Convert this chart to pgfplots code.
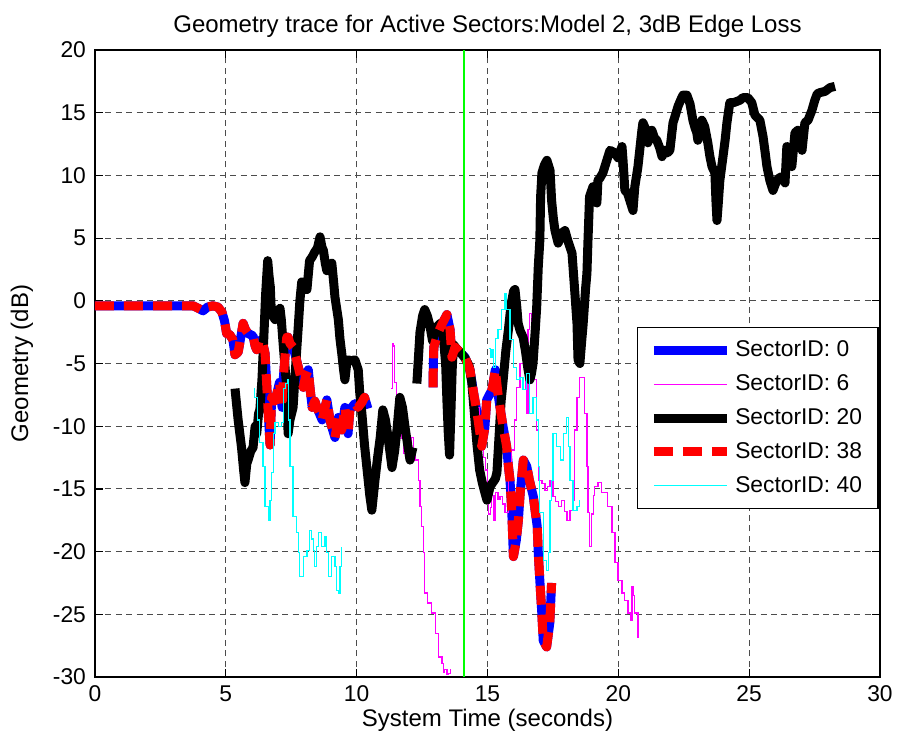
\documentclass[border=0pt]{standalone}
\usepackage{pgfplots}
\pgfplotsset{compat=1.18}
\usepackage{pgfplotstable}
\usepackage{fontspec}
\setmainfont{Liberation Sans}
\newcommand\fs{\fontsize{11.4}{13.7}\selectfont}
\newcommand\fl{\fontsize{12}{14.4}\selectfont}
\definecolor{traceblue}{rgb}{0,0,1}
\definecolor{tracered}{rgb}{1,0,0}
\definecolor{tracemagenta}{rgb}{1,0,1}
\definecolor{tracecyan}{rgb}{0,1,1}
\definecolor{markergreen}{rgb}{0,1,0}

% Sectors 0 and 38 carry the same geometry trace
\pgfplotstableread{
t g
0 -0.4
3.75 -0.4
3.95 -0.6
4.13 -0.8
4.3 -0.5
4.5 -0.4
4.7 -0.5
4.85 -0.9
4.95 -1.6
5.03 -2.6
5.15 -2.7
5.27 -3.1
5.35 -4.3
5.47 -4.1
5.58 -2.8
5.66 -1.8
5.75 -2.3
5.85 -2.6
6.04 -2.8
6.12 -3.6
6.18 -3.9
6.28 -3.2
6.38 -3.1
6.5 -4.2
6.56 -6.6
6.63 -9.3
6.69 -11.5
6.75 -7.7
6.85 -8.0
6.95 -7.4
7.05 -6.5
7.15 -8.5
7.2 -6.1
7.27 -4.2
7.33 -2.9
7.38 -2.9
7.45 -3.4
7.57 -3.7
7.7 -4.7
7.83 -5.8
7.96 -6.9
8.05 -6.0
8.15 -5.5
8.22 -7.0
8.3 -8.5
8.4 -8.0
8.48 -8.5
8.58 -9.0
8.68 -9.5
8.78 -8.6
8.86 -7.9
8.98 -9.5
9.07 -10.2
9.17 -10.9
9.3 -9.3
9.43 -10.3
9.55 -8.5
9.67 -10.6
9.74 -8.7
9.85 -8.4
9.93 -8.2
10.05 -8.5
10.2 -8.1
10.3 -7.7
10.43 -8.6
nan nan
12.92 -6.9
12.93 -5.0
12.95 -3.7
13.1 -2.6
13.25 -1.9
13.45 -1.1
13.57 -2.3
13.64 -4.5
13.76 -3.7
13.95 -4.1
14.14 -4.5
14.33 -5.5
14.45 -7.1
14.55 -8.3
14.64 -9.5
14.78 -11.6
14.9 -10.1
14.97 -7.9
15.17 -7.1
15.3 -5.5
15.4 -7.4
15.5 -8.8
15.6 -10.1
15.73 -11.6
15.8 -13.2
15.86 -14.3
15.93 -16.9
15.99 -20.4
16.1 -19.1
16.18 -17.5
16.25 -15.3
16.37 -12.7
16.5 -13.2
16.6 -14.3
16.75 -15.6
16.9 -18.0
16.94 -20.1
17.0 -22.3
17.07 -24.7
17.13 -27.1
17.26 -27.6
17.38 -25.7
17.45 -22.5
}\sectorzero

\pgfplotstableread{
t g
11.33 -7.0
11.36 -3.4
11.42 -3.6
11.45 -6.5
11.52 -8.0
11.6 -9.0
11.65 -9.5
11.72 -11.0
11.78 -12.2
11.9 -11.8
12.0 -11.3
12.1 -10.9
12.18 -12.0
12.23 -12.7
12.35 -14.3
12.42 -16.4
12.48 -18.0
12.55 -20.1
12.6 -23.3
12.72 -24.1
12.87 -24.9
13.0 -26.5
13.12 -28.4
13.26 -28.9
13.32 -29.6
13.37 -29.4
13.45 -29.8
13.5 -29.7
13.6 -29.4
nan nan
14.55 -7.0
14.62 -8.5
14.7 -9.5
14.78 -10.8
14.85 -12.5
14.92 -13.5
15.0 -14.5
15.05 -17.0
15.1 -16.5
15.15 -15.0
15.2 -15.5
15.25 -17.5
15.3 -15.3
15.4 -15.8
15.48 -15.6
15.58 -16.2
15.67 -16.9
15.8 -13.2
15.93 -11.9
16.02 -9.5
16.1 -6.9
16.24 -5.0
16.37 -4.7
16.45 -7.0
16.5 -9.0
16.55 -2.3
16.62 -1.0
16.68 -2.1
16.81 -6.3
16.88 -10.3
16.94 -14.3
17.08 -14.6
17.2 -15.1
17.3 -14.8
17.39 -14.3
17.5 -15.6
17.6 -16.0
17.7 -16.4
17.84 -15.9
17.95 -16.8
18.04 -17.5
18.15 -16.7
18.27 -15.9
18.34 -10.3
18.42 -7.7
18.53 -6.1
18.65 -6.1
18.72 -9.0
18.8 -13.2
18.84 -16.9
18.91 -19.6
18.98 -17.0
19.05 -15.5
19.1 -14.8
19.22 -14.5
19.37 -15.3
19.49 -15.3
19.6 -16.4
19.76 -18.5
19.87 -20.9
19.99 -22.3
20.14 -23.3
20.25 -23.9
20.37 -24.9
20.45 -25.5
20.52 -22.8
20.58 -23.5
20.63 -24.9
20.75 -26.9
}\sectorsix

\pgfplotstableread{
t g
5.35 -7.0
5.47 -9.5
5.6 -11.7
5.68 -13.5
5.73 -14.5
5.8 -13.0
5.85 -12.7
5.95 -12.0
6.04 -11.7
6.12 -10.0
6.18 -10.6
6.25 -9.0
6.3 -8.7
6.38 -6.3
6.45 -3.0
6.52 0.5
6.6 3.2
6.65 2.0
6.7 1.1
6.74 -1.0
6.8 -1.2
6.88 -1.5
6.98 -0.9
7.07 -0.6
7.12 -1.5
7.2 -3.7
7.27 -5.5
7.33 -6.9
7.38 -10.6
7.45 -9.5
7.57 -8.5
7.63 -6.5
7.7 -4.2
7.77 -2.0
7.83 0.0
7.9 1.5
8.0 1.2
8.1 0.9
8.2 3.2
8.3 3.5
8.4 3.9
8.5 4.2
8.6 5.1
8.67 4.3
8.73 4.0
8.8 3.0
8.86 2.4
8.95 2.8
9.05 3.0
9.12 1.5
9.17 0.3
9.3 -1.5
9.36 -3.0
9.43 -4.2
9.5 -5.5
9.55 -6.3
9.62 -5.0
9.67 -4.7
9.8 -4.8
9.93 -4.7
10.06 -5.5
10.12 -7.4
10.2 -9.0
10.3 -11.5
10.4 -13.5
10.5 -15.5
10.58 -16.7
10.7 -14.3
10.8 -12.5
10.9 -10.9
11.0 -8.7
11.1 -9.5
11.2 -10.9
11.35 -13.3
11.45 -12.0
11.54 -10.3
11.65 -7.7
11.75 -8.5
11.85 -10.1
11.95 -11.5
12.04 -12.7
12.15 -11.7
nan nan
12.3 -6.6
12.42 -2.5
12.52 -1.2
12.6 -0.7
12.7 -1.2
12.8 -2.0
12.9 -3.2
13.0 -2.4
13.1 -2.0
13.2 -1.8
13.3 -2.6
13.4 -5.0
13.45 -8.0
13.5 -10.5
13.55 -12.3
13.6 -9.0
13.65 -5.5
13.7 -3.5
13.85 -3.9
14.0 -4.2
14.15 -4.6
14.3 -5.2
14.4 -6.5
14.5 -9.0
14.6 -11.5
14.7 -13.5
14.8 -14.5
14.9 -15.3
14.98 -15.9
15.1 -14.8
15.2 -14.5
15.3 -14.2
15.36 -13.7
15.45 -10.5
15.52 -8.0
15.6 -6.3
15.7 -4.0
15.8 -2.3
15.9 -0.3
16.0 0.8
16.05 0.9
16.12 -0.5
16.17 -1.8
16.25 -2.4
16.36 -2.9
16.45 -4.0
16.55 -5.5
16.62 -6.3
16.68 -5.8
16.74 -5.0
16.82 -2.5
16.88 -0.5
16.94 2.7
17.0 4.8
17.03 8.3
17.08 10.2
17.17 10.8
17.27 11.2
17.39 10.4
17.45 8.0
17.52 6.5
17.58 5.6
17.7 4.6
17.84 5.4
17.96 5.6
18.07 4.8
18.23 3.8
18.34 0.6
18.42 -1.8
18.46 -4.7
18.53 -5.0
18.6 -3.2
18.65 -2.0
18.75 1.0
18.8 2.2
18.84 4.8
18.9 8.3
19.03 9.1
19.1 8.5
19.18 7.8
19.22 9.6
19.3 9.8
19.41 10.2
19.56 11.2
19.68 12.0
19.87 11.8
19.99 11.4
20.14 12.3
20.18 11.2
20.25 8.8
20.35 8.6
20.44 8.0
20.56 7.2
20.63 9.1
20.75 10.7
20.9 13.6
20.94 14.2
21.02 13.8
21.09 13.6
21.13 12.6
21.2 13.2
21.28 13.6
21.38 13.0
21.47 12.8
21.58 12.2
21.67 11.5
21.78 12.0
21.88 11.8
21.97 12.0
22.09 14.2
22.18 14.8
22.28 15.5
22.38 16.0
22.47 16.4
22.62 16.4
22.74 15.7
22.85 14.4
22.93 13.8
23.0 13.4
23.04 12.8
23.12 13.5
23.19 14.4
23.3 13.9
23.42 12.6
23.5 11.5
23.58 10.7
23.69 10.2
23.73 8.0
23.77 6.4
23.81 7.5
23.88 9.6
24.0 11.5
24.08 12.8
24.15 14.2
24.26 15.8
24.4 15.8
24.53 15.9
24.65 16.0
24.76 16.2
24.95 16.2
25.1 15.8
25.22 14.8
25.32 14.6
25.41 14.4
25.53 13.1
25.6 12.0
25.68 10.7
25.79 9.6
25.91 8.8
26.0 9.3
26.06 9.6
26.15 9.8
26.25 9.9
26.37 9.4
26.44 12.3
26.56 12.0
26.63 10.7
26.75 13.4
26.86 13.6
26.95 12.8
27.02 12.0
27.13 14.2
27.25 14.4
27.4 15.2
27.51 16.0
27.6 16.5
27.7 16.6
27.9 16.7
28.09 17.0
28.28 17.1
}\sectortwenty

\pgfplotstableread{
t g
6.08 -7.0
6.11 -7.7
6.2 -9.5
6.3 -11.3
6.42 -13.2
6.5 -16.4
6.62 -17.5
6.69 -15.9
6.75 -13.7
6.82 -10.6
6.88 -9.7
7.0 -10.0
7.13 -9.7
7.2 -7.0
7.27 -6.6
7.35 -6.3
7.4 -9.5
7.45 -13.2
7.57 -17.2
7.7 -18.5
7.77 -20.1
7.83 -22.0
7.96 -20.4
8.1 -19.9
8.2 -18.3
8.28 -19.0
8.34 -19.9
8.4 -21.2
8.48 -19.6
8.53 -18.5
8.67 -19.6
8.79 -18.8
8.86 -20.1
8.92 -22.0
9.05 -20.4
9.17 -21.2
9.24 -23.1
9.3 -23.3
9.36 -21.2
9.43 -19.6
nan nan
15.05 -3.8
15.1 -4.5
15.17 -3.9
15.22 -5.3
15.3 -3.0
15.4 -2.3
15.55 -0.7
15.67 0.6
15.73 -0.7
15.86 -3.1
15.99 -5.3
16.1 -6.3
16.24 -6.1
16.36 -7.1
16.5 -5.8
16.62 -9.0
16.74 -7.7
16.88 -9.5
16.94 -13.2
17.0 -16.9
17.13 -20.7
17.27 -21.5
17.32 -20.1
17.39 -15.9
17.45 -14.3
17.5 -10.6
17.65 -11.6
17.78 -12.7
17.9 -10.6
18.03 -9.3
18.1 -11.6
18.15 -14.3
18.27 -16.7
18.42 -16.4
18.53 -15.9
}\sectorforty

\begin{document}
\begin{tikzpicture}
\begin{axis}[
  at={(0,0)}, anchor=south west,
  scale only axis, width=392.5pt, height=313.5pt,
  xmin=0, xmax=30, ymin=-30, ymax=20,
  xtick={0,5,...,30}, ytick={-30,-25,...,20},
  tick align=inside, major tick length=4pt,
  grid=major,
  major grid style={black!70, line width=0.55pt, dash pattern=on 3pt off 2.2pt},
  axis line style={black, line width=0.6pt},
  tick style={black, line width=0.6pt},
  /pgf/number format/assume math mode=true,
  tick label style={font=\fs},
  xticklabel style={yshift=-1pt},
  yticklabel style={xshift=-1pt},
  title={Geometry trace for Active Sectors:Model 2, 3dB Edge Loss},
  title style={at={(axis description cs:0.5,1.019)}, anchor=center, font=\fl},
  xlabel={System Time (seconds)},
  xlabel style={at={(axis description cs:0.5,-0.0686)}, anchor=center, font=\fl},
  ylabel={Geometry (dB)},
  ylabel style={at={(axis description cs:-0.093,0.5)}, anchor=center, font=\fl},
  unbounded coords=jump,
  legend style={at={(axis description cs:0.69,0.558)}, anchor=north west,
    draw=black, line width=0.6pt, fill=white, font=\fs,
    inner xsep=6pt, inner ysep=4.5pt, row sep=3.5pt, column sep=0pt,
    cells={anchor=west}},
  legend image code/.code={\draw[#1] (0pt,0pt) -- (36.5pt,0pt);},
]
\addplot[traceblue, line width=4.5pt, line join=round] table[x=t, y=g] {\sectorzero};
\addlegendentry{SectorID: 0}
\addplot[tracemagenta, line width=0.6pt, const plot] table[x=t, y=g] {\sectorsix};
\addlegendentry{SectorID: 6}
\addplot[black, line width=4.5pt, line join=round] table[x=t, y=g] {\sectortwenty};
\addlegendentry{SectorID: 20}
\addplot[tracered, line width=4.5pt, line join=round, line cap=butt, dash pattern=on 9.5pt off 5pt] table[x=t, y=g] {\sectorzero};
\addlegendentry{SectorID: 38}
\addplot[tracecyan, line width=0.6pt, const plot] table[x=t, y=g] {\sectorforty};
\addlegendentry{SectorID: 40}
% current time marker
\addplot[markergreen, line width=0.6pt, forget plot] coordinates {(14.1,-30) (14.1,20)};
\end{axis}
\pgfresetboundingbox
\path[use as bounding box] (-47.5pt,-31.5pt) rectangle (404.5pt,338.5pt);
\end{tikzpicture}
\end{document}
